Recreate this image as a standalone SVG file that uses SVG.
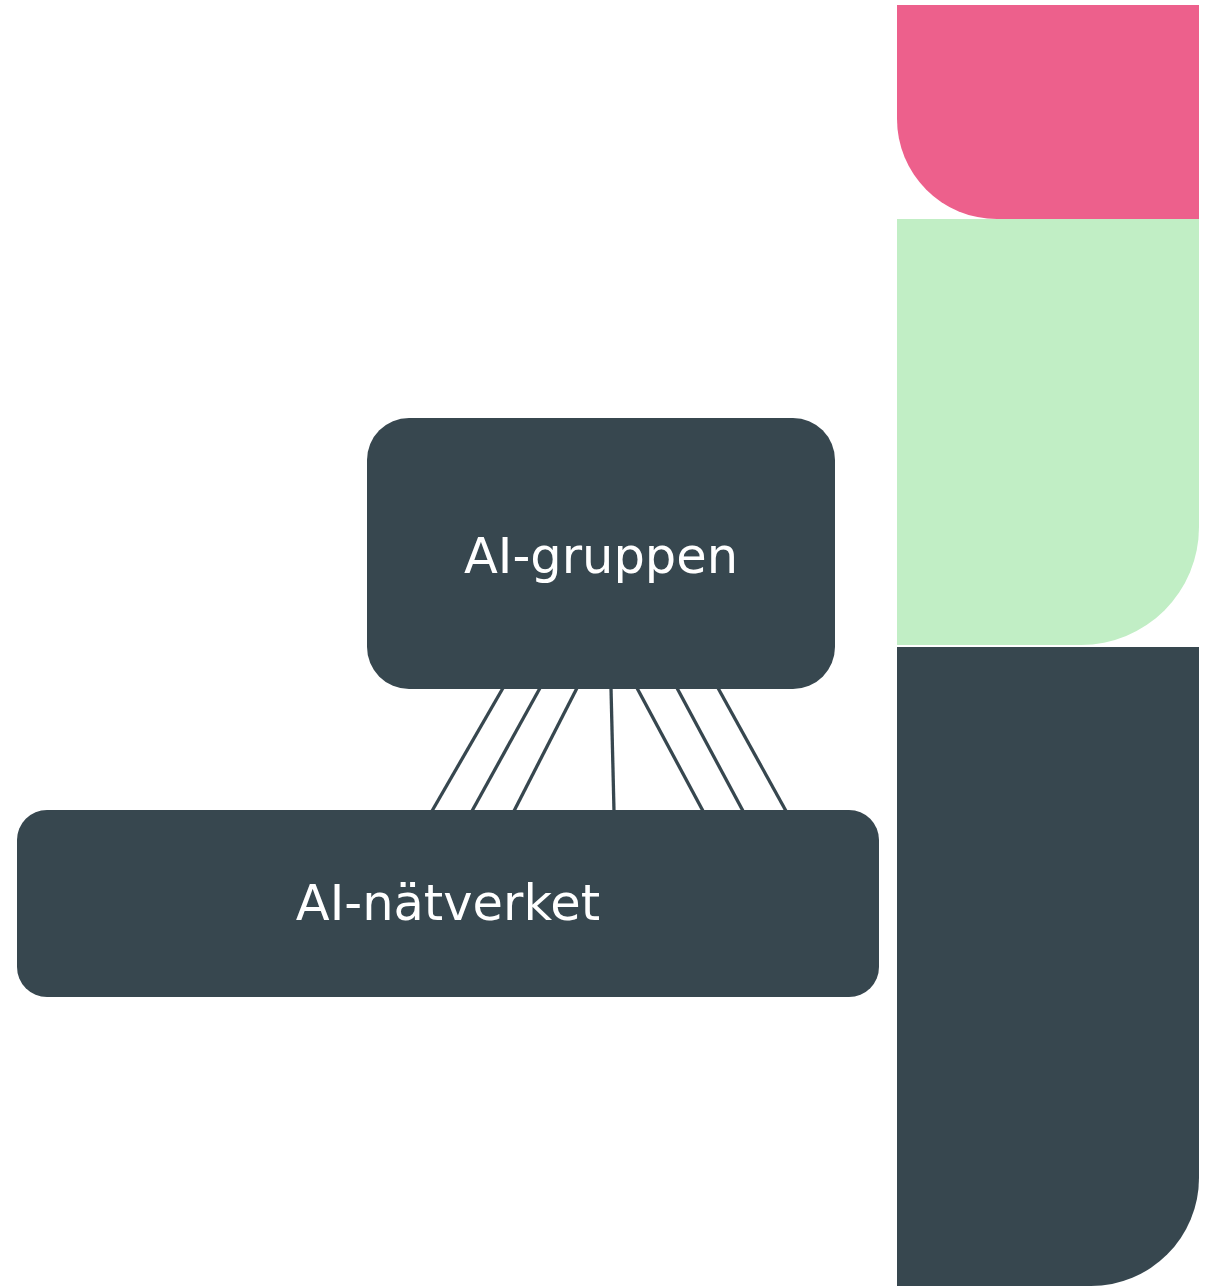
<svg xmlns="http://www.w3.org/2000/svg" width="1216" height="1286" viewBox="0 0 1216 1286">
<style>
.node{fill:#37474f}
.lbl{fill:#ffffff;font-family:"DejaVu Sans",Verdana,sans-serif;font-size:49.5px;text-anchor:middle}
.conn{stroke:#37474f;stroke-width:3.3;fill:none}
</style>
<rect width="1216" height="1286" fill="#ffffff"/>
<g id="decor">
<path d="M897 5 H1199 V219 H997 A100 100 0 0 1 897 119 Z" fill="#ed608c"/>
<path d="M897 219 H1199 V527 A118 118 0 0 1 1081 645 H897 Z" fill="#c1eec5"/>
<path d="M897 647 H1199 V1178 A108 108 0 0 1 1091 1286 H897 Z" fill="#37474f"/>
</g>
<g id="connectors">
<line class="conn" x1="503" y1="688" x2="432" y2="811"/>
<line class="conn" x1="540" y1="688" x2="472" y2="811"/>
<line class="conn" x1="577" y1="688" x2="514" y2="811"/>
<line class="conn" x1="611" y1="688" x2="614" y2="811"/>
<line class="conn" x1="637" y1="688" x2="703" y2="811"/>
<line class="conn" x1="677" y1="688" x2="743" y2="811"/>
<line class="conn" x1="718" y1="688" x2="786" y2="811"/>
</g>
<g id="ai-gruppen">
<rect class="node" x="367" y="418" width="468" height="271" rx="42" ry="42"/>
<text class="lbl" x="601" y="573">AI-gruppen</text>
</g>
<g id="ai-natverket">
<rect class="node" x="17" y="810" width="862" height="187" rx="30" ry="30"/>
<text class="lbl" x="448" y="920">AI-nätverket</text>
</g>
</svg>
